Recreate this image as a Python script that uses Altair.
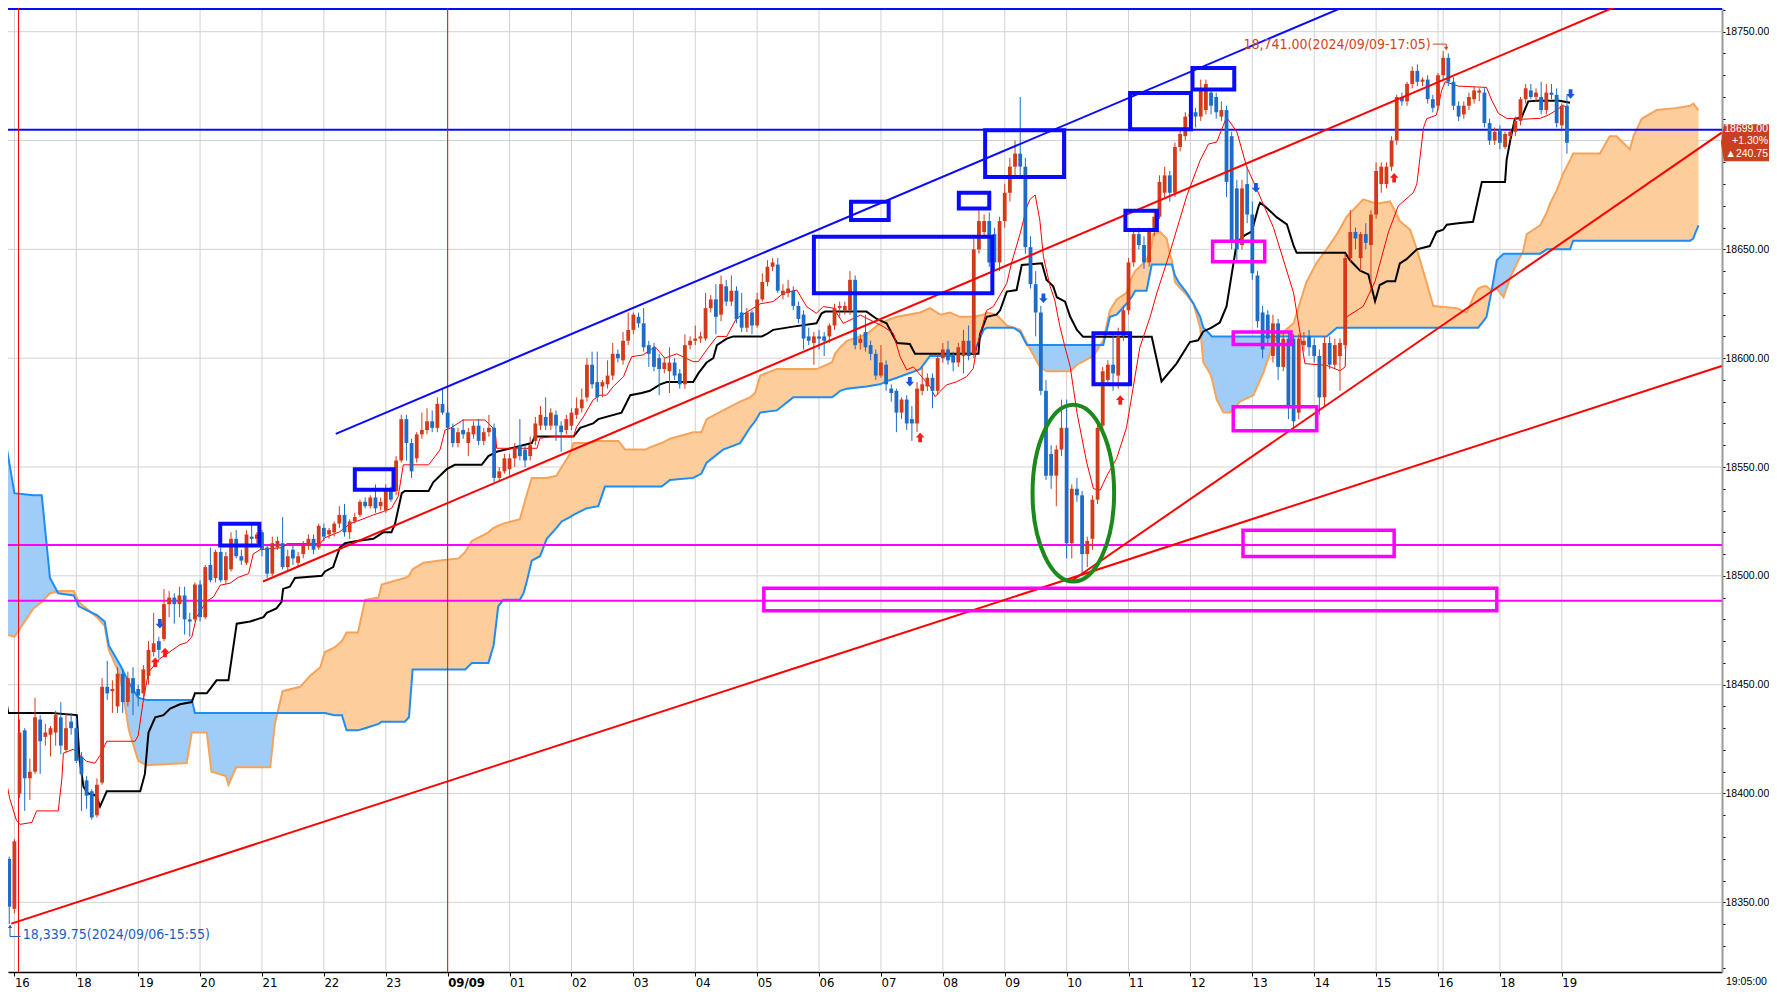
import json
import altair as alt
import pandas as pd

# ---------------------------------------------------------------------------
# DATA  (x = 5-minute bar index, 0 = 16:00 on 2024/09/06)
# ---------------------------------------------------------------------------
FIRST_BAR = -2

opens = [
    18365,18370,18347,18400,18429,18407,18410,18434,18426,18427,18428,18435,
    18420,18433,18430,18417,18406,18401,18390,18405,18449,18447,
    18440,18455,18442,18453,18448,18446,18454,18465,18470,18471,
    18487,18490,18487,18491,18480,18480,18496,18481,18505,18499,
    18511,18498,18503,18517,18509,18506,18518,18517,18520,18513,
    18501,18513,18515,18504,18512,18506,18510,18514,18517,18513,
    18522,18519,18520,18524,18528,18520,18525,18528,18534,18532,
    18536,18532,18530,18539,18539,18553,18572,18561,18554,18565,
    18567,18571,18568,18579,18575,18568,18561,18567,18561,18565,
    18569,18562,18566,18568,18545,18548,18549,18554,18560,18558,
    18555,18562,18569,18573,18569,18574,18569,18567,18569,18574,
    18577,18582,18597,18589,18587,18588,18592,18602,18599,18608,
    18613,18619,18616,18606,18605,18600,18595,18594,18598,18593,
    18588,18606,18608,18609,18609,18623,18627,18620,18633,18626,
    18631,18621,18614,18621,18615,18627,18635,18642,18643,18629,
    18630,18631,18624,18620,18610,18607,18610,18610,18610,18615,
    18623,18622,18622,18636,18607,18612,18606,18602,18592,18597,
    18586,18585,18575,18581,18572,18570,18585,18587,18591,18585,
    18600,18604,18601,18598,18601,18608,18602,18650,18658,18663,
    18657,18644,18663,18676,18688,18694,18688,18651,18634,18621,
    18585,18556,18546,18558,18568,18515,18540,18537,18510,18517,
    18535,18569,18590,18597,18592,18610,18622,18644,18657,18652,
    18644,18658,18665,18676,18684,18676,18697,18702,18711,18713,
    18711,18714,18722,18720,18711,18714,18702,18678,18652,18680,
    18666,18638,18621,18620,18601,18616,18596,18609,18609,18575,
    18606,18610,18606,18601,18582,18607,18597,18601,18606,18646,
    18658,18646,18657,18652,18666,18680,18680,18688,18700,18720,
    18718,18726,18732,18727,18728,18719,18716,18730,18738,18727,
    18716,18712,18716,18719,18722,18722,18708,18700,18705,18697,
    18702,18704,18709,18719,18723,18720,18720,18714,18722,18721,
    18707,18716,
]
highs = [
    18378,18371,18379,18434,18430,18416,18444,18436,18432,18431,18438,18442,
    18437,18437,18435,18419,18408,18402,18407,18453,18461,18452,
    18458,18457,18456,18458,18450,18459,18470,18483,18472,18494,
    18493,18492,18495,18495,18483,18497,18498,18505,18513,18512,
    18513,18511,18520,18521,18512,18521,18524,18520,18521,18514,
    18518,18518,18527,18512,18514,18511,18516,18519,18519,18524,
    18524,18522,18525,18532,18533,18526,18529,18535,18536,18537,
    18542,18536,18542,18541,18555,18574,18574,18563,18566,18575,
    18577,18576,18582,18586,18577,18570,18568,18572,18568,18571,
    18572,18568,18574,18570,18550,18556,18556,18561,18572,18560,
    18564,18573,18578,18582,18577,18576,18571,18574,18577,18582,
    18586,18600,18603,18603,18590,18599,18607,18604,18612,18621,
    18621,18621,18623,18608,18607,18602,18600,18605,18600,18595,
    18611,18610,18615,18612,18630,18629,18634,18638,18636,18638,
    18633,18630,18623,18622,18630,18639,18645,18646,18646,18634,
    18636,18633,18626,18622,18614,18612,18613,18612,18616,18625,
    18626,18626,18640,18638,18611,18620,18608,18604,18606,18599,
    18588,18586,18582,18583,18578,18589,18596,18593,18593,18602,
    18607,18608,18603,18607,18613,18615,18655,18668,18666,18667,
    18660,18665,18680,18692,18700,18720,18692,18656,18640,18624,
    18590,18560,18560,18581,18581,18542,18545,18539,18518,18537,
    18570,18596,18599,18612,18614,18624,18646,18659,18660,18656,
    18660,18668,18684,18688,18686,18699,18705,18713,18714,18715,
    18728,18728,18724,18722,18718,18716,18704,18682,18682,18688,
    18672,18640,18624,18622,18620,18618,18612,18612,18611,18611,
    18612,18613,18609,18604,18610,18610,18609,18609,18648,18668,
    18660,18658,18662,18668,18690,18690,18690,18702,18721,18722,
    18727,18734,18735,18729,18730,18721,18731,18741,18740,18729,
    18718,18718,18722,18725,18724,18724,18710,18706,18707,18704,
    18705,18711,18720,18726,18726,18724,18727,18726,18726,18724,
    18717,18721,
]
lows = [
    18363,18340,18345,18398,18392,18397,18409,18409,18422,18417,18422,18418,
    18419,18427,18414,18392,18393,18388,18389,18404,18443,18437,
    18437,18437,18440,18436,18440,18444,18450,18463,18462,18470,
    18481,18478,18481,18473,18472,18479,18479,18480,18497,18497,
    18497,18496,18502,18508,18505,18505,18513,18515,18509,18499,
    18500,18512,18503,18502,18505,18504,18508,18512,18510,18512,
    18516,18517,18518,18522,18518,18517,18524,18527,18531,18531,
    18529,18530,18529,18534,18537,18552,18553,18545,18552,18563,
    18565,18566,18566,18574,18560,18559,18559,18563,18555,18563,
    18560,18560,18564,18543,18543,18547,18546,18550,18553,18550,
    18553,18560,18567,18567,18567,18562,18557,18565,18567,18572,
    18575,18580,18586,18580,18582,18586,18590,18598,18597,18606,
    18611,18614,18603,18596,18594,18583,18593,18584,18590,18586,
    18586,18604,18606,18607,18608,18621,18611,18617,18624,18624,
    18616,18612,18612,18611,18614,18626,18633,18640,18630,18627,
    18628,18622,18616,18604,18606,18597,18604,18601,18607,18613,
    18619,18620,18620,18604,18604,18603,18599,18590,18591,18585,
    18580,18566,18572,18567,18562,18566,18583,18585,18577,18583,
    18598,18597,18594,18596,18593,18599,18600,18648,18655,18642,
    18640,18640,18660,18672,18684,18684,18648,18632,18610,18583,
    18544,18540,18532,18555,18508,18508,18534,18500,18504,18512,
    18533,18567,18588,18585,18586,18608,18620,18642,18650,18641,
    18642,18656,18664,18674,18672,18674,18695,18700,18709,18706,
    18709,18712,18712,18710,18709,18674,18650,18645,18650,18662,
    18636,18614,18600,18606,18598,18590,18594,18572,18567,18572,
    18603,18601,18598,18574,18578,18595,18595,18585,18604,18644,
    18650,18640,18650,18630,18664,18676,18678,18686,18698,18716,
    18716,18724,18725,18725,18717,18713,18714,18728,18725,18714,
    18709,18710,18714,18717,18718,18706,18698,18698,18696,18696,
    18700,18702,18707,18717,18719,18718,18712,18712,18719,18706,
    18705,18694,
]
closes = [
    18370,18348,18378,18428,18407,18410,18435,18424,18428,18430,18436,18422,
    18430,18430,18415,18409,18399,18389,18404,18449,18446,18448,
    18455,18442,18453,18446,18445,18457,18466,18469,18466,18487,
    18490,18487,18491,18480,18479,18496,18481,18504,18498,18511,
    18498,18509,18517,18509,18507,18519,18517,18519,18512,18501,
    18515,18516,18504,18509,18508,18509,18514,18517,18512,18523,
    18518,18521,18524,18528,18520,18525,18527,18534,18532,18536,
    18531,18534,18539,18535,18553,18572,18561,18548,18565,18567,
    18571,18568,18579,18575,18568,18561,18566,18565,18566,18569,
    18562,18566,18568,18545,18548,18554,18554,18559,18555,18553,
    18560,18570,18574,18569,18575,18569,18566,18572,18575,18577,
    18581,18597,18588,18582,18589,18592,18602,18600,18608,18613,
    18620,18616,18605,18602,18596,18595,18598,18598,18592,18588,
    18606,18608,18609,18610,18623,18627,18619,18634,18626,18631,
    18618,18614,18621,18615,18627,18635,18642,18644,18631,18631,
    18632,18624,18618,18609,18608,18610,18609,18608,18615,18623,
    18624,18624,18636,18606,18609,18605,18602,18592,18598,18588,
    18584,18575,18581,18570,18570,18586,18588,18591,18585,18600,
    18604,18599,18598,18605,18608,18601,18650,18663,18663,18644,
    18644,18663,18676,18688,18694,18688,18651,18634,18621,18585,
    18546,18546,18558,18568,18515,18540,18537,18510,18516,18535,
    18568,18594,18597,18593,18610,18622,18644,18657,18652,18644,
    18658,18665,18681,18684,18676,18697,18703,18711,18712,18711,
    18724,18726,18716,18713,18714,18681,18653,18650,18678,18666,
    18639,18617,18604,18609,18616,18596,18609,18578,18571,18609,
    18608,18605,18601,18582,18607,18597,18606,18607,18646,18658,
    18655,18657,18653,18666,18686,18688,18688,18700,18720,18718,
    18726,18732,18727,18728,18719,18715,18730,18738,18727,18716,
    18711,18716,18720,18723,18723,18708,18700,18704,18699,18703,
    18704,18709,18719,18724,18720,18722,18714,18722,18721,18708,
    18716,18699,
]

hour_ticks = list(range(0, 301, 12))
hour_labels = ["16", "18", "19", "20", "21", "22", "23", "09/09", "01", "02",
               "03", "04", "05", "06", "07", "08", "09", "10", "11", "12",
               "13", "14", "15", "16", "18", "19"]
extra_grid = [277]
price_ticks = [18350, 18400, 18450, 18500, 18550, 18600, 18650, 18700, 18750]
price_minor = list(range(18320, 18761, 10))

# Ichimoku lines as (bar, value) vertices
tenkan = [(-2.8,18409),(-1.8,18408.5),(-0.9,18397.6),(0.4,18387.6),(1.1,18385.8),(3.4,18386.7),
    (4.3,18392),(8.5,18392),(9.2,18406.7),(9.5,18418.5),(11.4,18420.3),(12.7,18417.5),(14,18414.8),
    (15.6,18413.9),(16.6,18417.5),(17.9,18424),(23.4,18424),(24,18426.6),(25,18443),(26,18455.7),
    (27.3,18459.4),(28.2,18462),(29.5,18464),(32.1,18468.4),(33.4,18469.3),(34.4,18472),(35.3,18481),
    (37.3,18488.4),(38.6,18490.3),(39.9,18495.7),(41.8,18496.6),(43.4,18499.3),(45.4,18501),(46.3,18510),
    (47.6,18512),(52.1,18513),(52.8,18514.8),(59.3,18514.8),(60.2,18517.5),(63.1,18520.3),(65.1,18524),
    (67,18525.6),(69.6,18528),(71.5,18529.5),(73.1,18531),(74.4,18536.4),(75.4,18551),(80.3,18551),
    (82.5,18557.8),(83.5,18567),(84.5,18567.8),(87,18571.6),(91.2,18571.6),(93.2,18567),(93.5,18558.6),
    (101.3,18558.6),(101.9,18563.2),(104.5,18564),(108.4,18564),(109,18568.5),(110.3,18573),(112.2,18580.8),
    (113.5,18583),(114.8,18583),(116.1,18587),(118.1,18591.5),(119,18597),(119.7,18600.7),(121.9,18601.5),
    (124.2,18605.3),(126.1,18600),(128.4,18602),(131.6,18598.4),(132.6,18598.4),(134.2,18603.8),(136.2,18610),
    (138.1,18610),(140,18618.3),(142.6,18622),(144.6,18625),(147.1,18626),(149.1,18629.8),(151.7,18631.3),
    (153.6,18623.7),(155.5,18620.6),(156.8,18623.7),(158.8,18623),(160.7,18616),(164,18619.8),(168.5,18614.5),
    (170.4,18611.4),(171.7,18600.7),(173,18594.6),(174.3,18596),(175.9,18591.5),(177.5,18587),(178.5,18582.3),
    (179.5,18584.8),(180.7,18587.7),(182.7,18589.2),(184.6,18591.5),(185.9,18595.3),(186.6,18605.3),(188.5,18622),
    (189.8,18623.7),(192.4,18634.4),(193.3,18643.6),(195,18657.4),(196.3,18669.6),(196.9,18673),(197.9,18675),
    (198.8,18663.5),(199.5,18646.6),(200.8,18633),(201.7,18626.7),(202.7,18614.5),(203.7,18605),(204.7,18596),
    (206,18575),(207.9,18552),(209.2,18540),(210.5,18539.4),(211.8,18546),(213.7,18554),(215.6,18568),
    (218.2,18605),(220.2,18619),(221.5,18630),(224,18648.4),(227.3,18674.6),(229.9,18691),(231.5,18698.4),
    (233.1,18699.3),(235,18710.7),(237,18704),(238.9,18688),(240.8,18678),(244.1,18660),(248,18630),
    (250.2,18597.5),(254.4,18596.7),(257,18594.2),(258,18596),(258.3,18619),(261.5,18623.8),(263.8,18635.3),
    (266.4,18658),(268.3,18670),(271.2,18676),(271.9,18680),(273.2,18706),(273.8,18710),(275.7,18711.7),
    (276.7,18723),(277.4,18727),(279.9,18725),(285.4,18724.4),(286.4,18718.6),(287.7,18712.5),(289.3,18710.2),
    (292.5,18709.8),(295.8,18710.2),(297.4,18711.7),(299,18714),(300.3,18716.3),(301.3,18714)]

kijun = [(-2.8,18446),(-1.8,18446),(-1.2,18437),(7.2,18437),(12.1,18436),(12.6,18416),(13.4,18403),
    (14.3,18400),(15.9,18399),(16.6,18394),(17.9,18401),(24.4,18401),(25.3,18409),(26,18428),(27.3,18435),
    (28.9,18436),(30.2,18439),(32.1,18441),(34.4,18442),(35,18446),(37.3,18446),(39.2,18452),(41.5,18452),
    (43.1,18478),(45.7,18479),(48.3,18481),(48.9,18483),(50.8,18485),(51.8,18488),(52.1,18494),(53.4,18495),
    (54.4,18499),(59.6,18500),(60.2,18502),(61.8,18504),(63.1,18513),(64.1,18515),(66.4,18516),(69.6,18517),
    (71.5,18520),(73.1,18520),(73.8,18524),(75.1,18538),(75.7,18539),(80.3,18539),(81.2,18543),(82.5,18546),
    (83.8,18549),(85.4,18551),(90.6,18551),(91.9,18555),(93.5,18557),(100.3,18561),(100.9,18564),(108.4,18564),
    (109.7,18568),(112.2,18570),(113.2,18572),(117.7,18575),(119.4,18583),(121.6,18584),(123.2,18585),
    (125.2,18588),(126.5,18589),(131.6,18589),(132.6,18593),(134.2,18598),(135.5,18600),(136.2,18606),
    (138.1,18609),(139.4,18610),(144.9,18610),(145.8,18611),(147.1,18613),(151,18614.5),(155.5,18616),
    (156.5,18620.6),(157.2,18621.4),(165.2,18621.4),(167.2,18618),(169.1,18616),(171.1,18607),(173.6,18606.5),
    (174.6,18602),(186.9,18602),(187.2,18611),(188.5,18619),(190.4,18620),(191.1,18622),(192.4,18630.6),
    (194.3,18631.3),(195.3,18642.8),(199.2,18643.6),(200.1,18636),(201.4,18633),(202.1,18628),(203.7,18626),
    (204.7,18619),(206,18613),(207.2,18609.8),(220.5,18609.8),(222.4,18589.3),(225.3,18597.5),(227.9,18607.4),
    (229.5,18608.2),(230.5,18612.3),(232.1,18614),(233.7,18616.4),(235,18623.8),(236,18638.5),(237,18653.3),
    (238.6,18656.6),(239.9,18658.2),(241.2,18669.7),(241.5,18671.4),(242.5,18669.7),(244.7,18664.8),
    (246.7,18661.5),(248,18651.7),(248.6,18648.4),(258,18648.4),(258.9,18645.1),(260.9,18640.2),(262.5,18638.5),
    (263.8,18626.2),(264.7,18633.6),(266.1,18635.3),(267.7,18635.3),(268.6,18643.5),(269.9,18645.5),
    (271.9,18650),(274.4,18651.5),(275.7,18658),(277,18659),(277.7,18661.3),(279.9,18662),(282.8,18662.7),
    (284.5,18681),(289,18681),(289.3,18691),(290,18700),(290.9,18710),(292.2,18710.6),(293.5,18718),
    (295.1,18718.3),(299.6,18718.3),(301.6,18717.4)]

# cloud: (bar, senkou span A, senkou span B)
cloud = [(-3,18476,18600),(-1.5,18473,18559),(0,18472,18538),(3.7,18485,18537),(5.3,18488,18537),
    (6.9,18492,18499),(8.5,18493,18492),(11.5,18493,18491),(12.5,18488,18486),(16,18481,18482),
    (17.5,18477,18479),(18.3,18466,18468),(20.5,18454,18459),(22.2,18429,18451),(24,18415,18444),
    (25.6,18413,18443),(33.4,18414,18443),(34.4,18428,18443),(35,18428,18437),(37.3,18428,18437),
    (38.2,18410,18437),(41,18408,18437),(41.5,18404,18437),(43,18412,18437),(49.6,18412,18437),
    (50.5,18432,18437),(51,18437,18437),(52,18447,18437),(55.4,18449,18437),(57.3,18454,18437),
    (59.3,18458,18437),(60.2,18465,18437),(62,18467,18436),(63.5,18470,18436),(64.4,18474,18429),
    (66.6,18474,18429),(68,18489,18430),(70.6,18490,18432),(71.2,18496,18433),(74.1,18498,18433),
    (75.7,18499,18433),(76.5,18500,18435),(77.2,18503,18457),(79.3,18506,18457),(82.5,18507,18457),
    (86.1,18508,18457),(87.4,18511,18457),(88.7,18516,18460),(91.9,18520,18460),(92.9,18522,18468),
    (93.8,18523,18486),(94.8,18524,18489),(98,18526,18489),(98.7,18532,18492),(99.3,18537,18497),
    (100.3,18545,18507),(101.9,18545,18509),(103.2,18545,18517),(105.1,18546,18522),(106.1,18550,18525),
    (107.7,18556,18527),(108.4,18561,18528),(110.9,18561,18531),(113.2,18562,18532),(114.5,18562,18541),
    (117.1,18562,18541),(118.4,18558,18541),(122.3,18558,18541),(123.2,18559,18541),(125.5,18561,18541),
    (127.1,18563,18544),(131.6,18566,18545),(133.2,18566,18547),(134.2,18572,18552),(137.4,18576,18558),
    (140.7,18580,18561),(142.6,18582,18568),(143.6,18584,18571),(144.6,18592,18575),(147.8,18595,18576),
    (151,18595,18582),(155.5,18595,18582),(158.5,18598,18582),(159.1,18602,18583),(160.1,18605,18585),
    (161.4,18608,18586),(165.2,18611,18587),(167.8,18616,18588),(169.8,18618,18590),(171.1,18619,18591),
    (175.6,18621,18595),(177.5,18623,18601),(179.5,18620,18601),(181.4,18621,18601),(183.3,18619,18602),
    (185.9,18619,18602),(187.9,18620,18613),(188.5,18621,18614),(190.4,18620,18614),(192.4,18615,18614),
    (193.7,18614,18614),(195,18613,18612),(196.3,18607,18606),(198.8,18596,18606),(200.1,18594,18606),
    (204.7,18594,18606),(206,18597,18606),(209.2,18601,18606),(210.5,18606,18606),(211.1,18608,18606),
    (212.4,18622,18619),(213.7,18627,18620),(215.6,18630,18625),(216.6,18637,18628),(217.3,18640,18631),
    (219.5,18645,18631),(220.5,18652,18643),(220.8,18657,18643),(222.1,18658,18643),(223.4,18655,18643),
    (224,18648,18643),(224.4,18645,18643),(225,18635,18638),(225.7,18633,18635),(227.3,18629,18630),
    (228.6,18625,18625),(229.9,18614,18619),(230.5,18598,18614),(231.8,18593,18611),(232.1,18591,18610),
    (233.1,18581,18610),(234.4,18575,18610),(235.7,18575,18610),(237.6,18580,18610),(240.2,18583,18610),
    (242.1,18593,18610),(244.1,18607,18610),(245,18610,18610),(248,18616,18610),(250.5,18635,18610),
    (252.5,18644,18610),(254.4,18650,18610),(256.4,18657,18614),(258.3,18665,18614),(261.5,18673,18614),
    (264.1,18671,18614),(266.7,18672,18614),(268.6,18663,18614),(270.6,18659,18614),(271.9,18650,18614),
    (273.5,18637,18614),(275.1,18624,18614),(279.6,18623,18614),(281.6,18621,18614),(283.2,18630,18614),
    (283.8,18632,18614),(284.8,18633,18617),(285.4,18633,18619),(286.4,18631,18631),(287.4,18632,18645),
    (288.7,18628,18648),(290,18637,18648),(291.6,18645,18648),(292.5,18649,18648),(293.2,18657,18648),
    (294.5,18659,18648),(295.8,18661,18648),(297.1,18667,18650),(297.7,18671,18650),(299,18677,18650),
    (300.3,18685,18650),(301.6,18691,18650),(302.2,18694,18654),(307.4,18694,18654),(309.3,18702,18654),
    (310.6,18702,18654),(313.2,18696,18654),(313.9,18702,18654),(315.5,18710,18654),(318.4,18714,18654),
    (322.3,18715,18654),(324.9,18716,18654),(325.5,18717,18655),(325.8,18716,18657),(326.5,18714,18661)]

# drawn annotations
h_blue = [18705, 18760.4]
h_magenta = [18514.2, 18488.6]
v_red = [0.8, 84]
trend_lines = [  # (x1, y1, x2, y2, colour)
    (62.3, 18565.2, 262.0, 18765.7, "#0a0aff"),
    (48.2, 18497.4, 315.0, 18766.1, "#ff0000"),
    (-0.6, 18340.2, 331.0, 18596.4, "#ff0000"),
    (204.8, 18497.4, 331.0, 18703.6, "#ff0000"),
]
blue_boxes = [(39.9, 47.5, 18513.9, 18523.9), (66.0, 73.5, 18539.6, 18549.0),
              (162.2, 169.5, 18663.5, 18671.9), (155.0, 189.6, 18629.8, 18655.8),
              (183.1, 189.0, 18668.8, 18676.0), (188.2, 203.5, 18683.3, 18704.7),
              (215.4, 221.5, 18658.9, 18667.7), (209.2, 216.3, 18588.0, 18611.5),
              (216.3, 228.1, 18705.2, 18721.8), (228.4, 236.5, 18723.4, 18733.3)]
magenta_boxes = [(232.3, 242.4, 18644.3, 18653.7), (236.3, 247.5, 18606.3, 18612.0),
                 (236.3, 252.5, 18566.7, 18577.7), (238.2, 267.5, 18508.9, 18520.9),
                 (145.3, 287.4, 18483.9, 18494.3)]
ellipse_center = (205.3, 18538)
up_arrows = [(27.3, 18460.3), (29.2, 18464.8), (175.6, 18563.6), (214.4, 18580.8), (267.5, 18682.9)]
down_arrows = [(28.2, 18478), (173.6, 18589.2), (199.5, 18627.5), (240.7, 18678.3), (301.7, 18721.4)]
high_note = {"bar": 274.6, "price": 18743.9, "text": "18,741.00(2024/09/09-17:05)"}
low_note = {"bar": 1.6, "price": 18335.0, "text": "18,339.75(2024/09/06-15:55)"}
last_price = 18699.00
last_tag = ["18699.00", "+1.30%", "\u25b2240.75"]
clock_text = "19:05:00"

# ---------------------------------------------------------------------------
# CHART
# ---------------------------------------------------------------------------
RED_C, BLUE_C = "#d43a1a", "#1c6cc8"
NARROW = "Liberation Sans Narrow, Arial Narrow, DejaVu Sans Condensed, sans-serif"
SIDE = "Liberation Sans, Arial, sans-serif"
W, H = 1714, 964
RIGHT, BOTTOM = 47, 19
xs = alt.Scale(domain=[-1.24, 331.06], nice=False, zero=False)
ys = alt.Scale(domain=[18317.98, 18760.89], nice=False, zero=False)

label_js = json.dumps(hour_labels).replace('"', "'")
AX_X = alt.Axis(
    values=hour_ticks, labelExpr=f"{label_js}[round(datum.value/12)]", grid=False,
    title=None, domainColor="black", domainWidth=1.5, tickColor="black", tickSize=4,
    labelAlign="left", labelBaseline="top", labelPadding=0, labelFont=NARROW,
    labelFontSize=13, labelColor="black", labelOverlap=False, labelFlush=False,
    labelFontWeight={"condition": {"test": "datum.value == 84", "value": "bold"}, "value": "normal"})
# the 18700 label sits under the last-price tag, as in the reference
AX_Y = alt.Axis(
    orient="right", values=price_minor,
    labelExpr="(datum.value % 50 == 0 && datum.value != 18700) ? format(datum.value, '.2f') : ''",
    grid=False, title=None,
    domainColor="#9a9a9a", domainWidth=2, tickColor="black", tickSize=3, labelPadding=0,
    labelFont=SIDE, labelFontSize=10.5, labelColor="black", labelOverlap=False)


def X(f):
    return alt.X(f, type="quantitative", scale=xs, axis=AX_X)


def Y(f):
    return alt.Y(f, type="quantitative", scale=ys, axis=AX_Y)


n = len(closes)
assert len(opens) == n and len(highs) == n and len(lows) == n
cdf = pd.DataFrame({"bar": list(range(FIRST_BAR, FIRST_BAR + n)), "o": opens,
                    "h": highs, "l": lows, "c": closes})
cdf["dir"] = ["up" if c >= o else "down" for o, c in zip(opens, closes)]
dir_color = alt.Color("dir:N", scale=alt.Scale(domain=["up", "down"], range=[RED_C, BLUE_C]), legend=None)

vgrid = alt.Chart(pd.DataFrame({"bar": hour_ticks + extra_grid})).mark_rule(
    color="#d2d2d2", strokeWidth=1).encode(x=X("bar"))
hgrid = alt.Chart(pd.DataFrame({"price": price_ticks})).mark_rule(
    color="#d2d2d2", strokeWidth=1).encode(y=Y("price"))

cl = pd.DataFrame(cloud, columns=["bar", "a", "b"])
cl["lo"] = cl[["a", "b"]].min(axis=1)
orange_fill = alt.Chart(cl).mark_area(color="#fdcd9c", opacity=1, clip=True).encode(
    x=X("bar"), y=Y("a"), y2=alt.Y2("lo"))
blue_fill = alt.Chart(cl).mark_area(color="#9fcdf8", opacity=1, clip=True).encode(
    x=X("bar"), y=Y("b"), y2=alt.Y2("lo"))
span_a = alt.Chart(cl).mark_line(color="#f7a35a", strokeWidth=2, clip=True).encode(x=X("bar"), y=Y("a"))
span_b = alt.Chart(cl).mark_line(color="#1e8cf5", strokeWidth=2, clip=True).encode(x=X("bar"), y=Y("b"))

hb = alt.Chart(pd.DataFrame({"p": h_blue})).mark_rule(color="#0a0aff", strokeWidth=2).encode(y=Y("p"))
hm = alt.Chart(pd.DataFrame({"p": h_magenta})).mark_rule(color="#ff00ff", strokeWidth=2).encode(y=Y("p"))
vr = alt.Chart(pd.DataFrame({"b": v_red})).mark_rule(color="#ff0000", strokeWidth=1).encode(x=X("b"))

kj = alt.Chart(pd.DataFrame(kijun, columns=["bar", "v"])).mark_line(
    color="black", strokeWidth=2, clip=True).encode(x=X("bar"), y=Y("v"))
tk = alt.Chart(pd.DataFrame(tenkan, columns=["bar", "v"])).mark_line(
    color="#ff0000", strokeWidth=1, clip=True).encode(x=X("bar"), y=Y("v"))

wick = alt.Chart(cdf).mark_rule(strokeWidth=1, clip=True).encode(
    x=X("bar"), y=Y("l"), y2=alt.Y2("h"), color=dir_color)
body = alt.Chart(cdf).mark_rule(strokeWidth=3.8, clip=True).encode(
    x=X("bar"), y=Y("o"), y2=alt.Y2("c"), color=dir_color)

tl = alt.Chart(pd.DataFrame(trend_lines, columns=["x1", "y1", "x2", "y2", "col"])).mark_rule(
    strokeWidth=2, clip=True).encode(x=X("x1"), x2=alt.X2("x2"), y=Y("y1"), y2=alt.Y2("y2"),
                                     color=alt.Color("col:N", scale=None))

bb = alt.Chart(pd.DataFrame(blue_boxes, columns=["x1", "x2", "y1", "y2"])).mark_rect(
    filled=False, stroke="#0a0aff", strokeWidth=4, clip=True).encode(
    x=X("x1"), x2=alt.X2("x2"), y=Y("y1"), y2=alt.Y2("y2"))
mb = alt.Chart(pd.DataFrame(magenta_boxes, columns=["x1", "x2", "y1", "y2"])).mark_rect(
    filled=False, stroke="#ff00ff", strokeWidth=3.5, clip=True).encode(
    x=X("x1"), x2=alt.X2("x2"), y=Y("y1"), y2=alt.Y2("y2"))

rx, k = 0.4615, 0.5523
ELLIPSE = (f"M0,-1 C{k*rx:.4f},-1 {rx},{-k:.4f} {rx},0 C{rx},{k:.4f} {k*rx:.4f},1 0,1 "
           f"C{-k*rx:.4f},1 {-rx},{k:.4f} {-rx},0 C{-rx},{-k:.4f} {-k*rx:.4f},-1 0,-1 Z")
ell = alt.Chart(pd.DataFrame([ellipse_center], columns=["bar", "p"])).mark_point(
    shape=ELLIPSE, size=(2 * 88.4) ** 2, filled=False, strokeWidth=4, color="#1a8a1a",
    opacity=1).encode(x=X("bar"), y=Y("p"))

UP = "M0,-1 L0.9,0 L0.4,0 L0.4,1 L-0.4,1 L-0.4,0 L-0.9,0 Z"
DOWN = "M0,1 L0.9,0 L0.4,0 L0.4,-1 L-0.4,-1 L-0.4,0 L-0.9,0 Z"
ua = alt.Chart(pd.DataFrame(up_arrows, columns=["bar", "p"])).mark_point(
    shape=UP, size=90, filled=True, color="#ff1a1a", opacity=1).encode(x=X("bar"), y=Y("p"))
da = alt.Chart(pd.DataFrame(down_arrows, columns=["bar", "p"])).mark_point(
    shape=DOWN, size=90, filled=True, color="#1a55e0", opacity=1).encode(x=X("bar"), y=Y("p"))

HI_C, LO_C = "#d2461c", "#1a5fc0"
hi_txt = alt.Chart(pd.DataFrame([high_note])).mark_text(
    align="right", baseline="middle", font=NARROW, fontSize=14, color=HI_C).encode(
    x=X("bar"), y=Y("price"), text="text:N")
lo_txt = alt.Chart(pd.DataFrame([low_note])).mark_text(
    align="left", baseline="middle", font=NARROW, fontSize=14, color=LO_C).encode(
    x=X("bar"), y=Y("price"), text="text:N")
hi_conn = alt.Chart(pd.DataFrame([(275.0, 18744.3, 277.6, 18744.3), (277.6, 18744.3, 277.6, 18742.6)],
                                 columns=["x1", "y1", "x2", "y2"])).mark_rule(
    color=HI_C, strokeWidth=1).encode(x=X("x1"), x2=alt.X2("x2"), y=Y("y1"), y2=alt.Y2("y2"))
hi_head = alt.Chart(pd.DataFrame([(277.6, 18742.2)], columns=["bar", "p"])).mark_point(
    shape="triangle-down", size=18, filled=True, color=HI_C, opacity=1).encode(x=X("bar"), y=Y("p"))
lo_conn = alt.Chart(pd.DataFrame([(-0.85, 18338.6, -0.85, 18334.3), (-0.85, 18334.3, 1.2, 18334.3)],
                                 columns=["x1", "y1", "x2", "y2"])).mark_rule(
    color=LO_C, strokeWidth=1).encode(x=X("x1"), x2=alt.X2("x2"), y=Y("y1"), y2=alt.Y2("y2"))
lo_head = alt.Chart(pd.DataFrame([(-0.85, 18339.0)], columns=["bar", "p"])).mark_point(
    shape="triangle-up", size=18, filled=True, color=LO_C, opacity=1).encode(x=X("bar"), y=Y("p"))

TAG = "M-1,0 L-0.88,-0.77 L1,-0.77 L1,0.77 L-0.88,0.77 Z"
tag_df = pd.DataFrame({"p": [last_price]})
tag = alt.Chart(tag_df).mark_point(shape=TAG, size=48 ** 2, filled=True, color="#c8401c",
                                   opacity=1, clip=False).encode(x=alt.value(W + 23), y=Y("p"))
tag_txt = alt.Chart(tag_df).mark_text(align="right", baseline="middle", font=SIDE, fontSize=10.5,
                                      lineHeight=12.5, color="white", dy=-14).encode(
    x=alt.value(W + 46), y=Y("p"), text=alt.value(last_tag))
clock = alt.Chart(tag_df).mark_text(align="left", baseline="top", font=SIDE, fontSize=10.5,
                                    color="black").encode(
    x=alt.value(W + 4), y=alt.value(H + 5), text=alt.value(clock_text))

chart = alt.layer(
    vgrid, hgrid, orange_fill, blue_fill, span_a, span_b, hm, hb, vr,
    kj, tk, wick, body, tl, bb, mb, ell, ua, da,
    hi_txt, lo_txt, hi_conn, hi_head, lo_conn, lo_head, tag, tag_txt, clock,
).properties(
    width=W, height=H, background="white",
    autosize=alt.AutoSizeParams(type="none"),
    padding={"left": 0, "top": 0, "right": RIGHT, "bottom": BOTTOM},
).configure_view(stroke=None)

chart.save("out.html", embed_options={"renderer": "svg", "actions": False})
